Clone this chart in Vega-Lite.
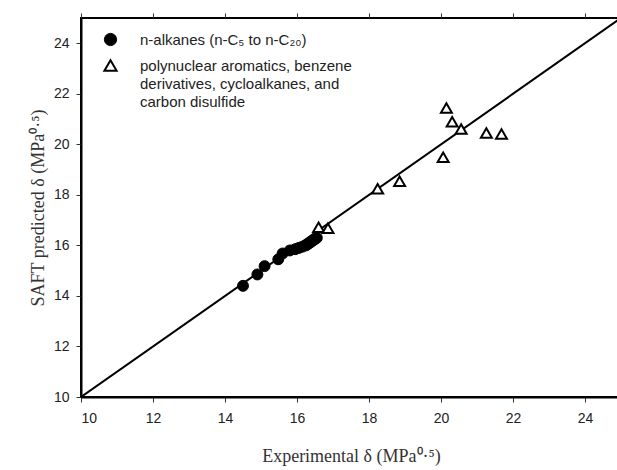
{
  "$schema": "https://vega.github.io/schema/vega-lite/v6.json",
  "width": 540,
  "height": 379,
  "autosize": {"type": "none"},
  "padding": {"left": 81, "top": 18, "right": 0, "bottom": 73},
  "config": {
    "view": {"stroke": "black", "strokeWidth": 2},
    "style": {"guide-label": {"lineHeight": 18}},
    "axis": {
      "grid": false,
      "domainColor": "black",
      "domainWidth": 2,
      "tickColor": "#333",
      "tickWidth": 1,
      "tickSize": 5,
      "labelFont": "Liberation Sans",
      "labelFontSize": 14,
      "labelColor": "#222",
      "titleFont": "Liberation Serif",
      "titleFontSize": 18,
      "titleFontWeight": "normal",
      "titleColor": "#333"
    }
  },
  "datasets": {
    "pts": [
      {"group": "n-alkanes (n-C₅ to n-C₂₀)", "exp": 14.5, "saft": 14.4},
      {"group": "n-alkanes (n-C₅ to n-C₂₀)", "exp": 14.9, "saft": 14.85},
      {"group": "n-alkanes (n-C₅ to n-C₂₀)", "exp": 15.1, "saft": 15.18},
      {"group": "n-alkanes (n-C₅ to n-C₂₀)", "exp": 15.48, "saft": 15.45},
      {"group": "n-alkanes (n-C₅ to n-C₂₀)", "exp": 15.6, "saft": 15.68},
      {"group": "n-alkanes (n-C₅ to n-C₂₀)", "exp": 15.8, "saft": 15.8},
      {"group": "n-alkanes (n-C₅ to n-C₂₀)", "exp": 15.95, "saft": 15.85},
      {"group": "n-alkanes (n-C₅ to n-C₂₀)", "exp": 16.05, "saft": 15.9},
      {"group": "n-alkanes (n-C₅ to n-C₂₀)", "exp": 16.15, "saft": 15.95},
      {"group": "n-alkanes (n-C₅ to n-C₂₀)", "exp": 16.25, "saft": 16.0},
      {"group": "n-alkanes (n-C₅ to n-C₂₀)", "exp": 16.3, "saft": 16.05},
      {"group": "n-alkanes (n-C₅ to n-C₂₀)", "exp": 16.35, "saft": 16.1},
      {"group": "n-alkanes (n-C₅ to n-C₂₀)", "exp": 16.4, "saft": 16.15},
      {"group": "n-alkanes (n-C₅ to n-C₂₀)", "exp": 16.45, "saft": 16.2},
      {"group": "n-alkanes (n-C₅ to n-C₂₀)", "exp": 16.5, "saft": 16.25},
      {"group": "n-alkanes (n-C₅ to n-C₂₀)", "exp": 16.55, "saft": 16.3},
      {"group": "polynuclear aromatics, benzene derivatives, cycloalkanes, and carbon disulfide", "exp": 16.6, "saft": 16.72},
      {"group": "polynuclear aromatics, benzene derivatives, cycloalkanes, and carbon disulfide", "exp": 16.86, "saft": 16.68},
      {"group": "polynuclear aromatics, benzene derivatives, cycloalkanes, and carbon disulfide", "exp": 18.24, "saft": 18.24},
      {"group": "polynuclear aromatics, benzene derivatives, cycloalkanes, and carbon disulfide", "exp": 18.85, "saft": 18.54},
      {"group": "polynuclear aromatics, benzene derivatives, cycloalkanes, and carbon disulfide", "exp": 20.06, "saft": 19.49},
      {"group": "polynuclear aromatics, benzene derivatives, cycloalkanes, and carbon disulfide", "exp": 20.15, "saft": 21.44},
      {"group": "polynuclear aromatics, benzene derivatives, cycloalkanes, and carbon disulfide", "exp": 20.31, "saft": 20.89},
      {"group": "polynuclear aromatics, benzene derivatives, cycloalkanes, and carbon disulfide", "exp": 20.56, "saft": 20.61},
      {"group": "polynuclear aromatics, benzene derivatives, cycloalkanes, and carbon disulfide", "exp": 21.26, "saft": 20.45},
      {"group": "polynuclear aromatics, benzene derivatives, cycloalkanes, and carbon disulfide", "exp": 21.68, "saft": 20.41}
    ],
    "diag": [
      {"exp": 10, "saft": 10},
      {"exp": 25, "saft": 25}
    ]
  },
  "layer": [
    {
      "data": {"name": "diag"},
      "mark": {"type": "line", "color": "black", "strokeWidth": 2, "clip": true},
      "encoding": {
        "x": {"field": "exp", "type": "quantitative", "scale": {"domain": [10, 25], "nice": false},
              "axis": {"orient": "top", "labels": false, "title": null, "values": [10, 12, 14, 16, 18, 20, 22, 24], "domain": false}},
        "y": {"field": "saft", "type": "quantitative", "scale": {"domain": [10, 25], "nice": false},
              "axis": {"values": [10, 12, 14, 16, 18, 20, 22, 24], "labelPadding": 7,
                       "title": "SAFT predicted δ (MPa⁰·⁵)", "titlePadding": 6}}
      }
    },
    {
      "data": {"name": "pts"},
      "mark": {"type": "point", "filled": true, "stroke": "black", "size": 120, "opacity": 1},
      "encoding": {
        "x": {"field": "exp", "type": "quantitative",
              "axis": {"orient": "bottom", "values": [10, 12, 14, 16, 18, 20, 22, 24], "labelPadding": 9,
                       "title": "Experimental δ (MPa⁰·⁵)", "titlePadding": 22}},
        "y": {"field": "saft", "type": "quantitative"},
        "shape": {"field": "group", "type": "nominal",
                  "scale": {"domain": ["n-alkanes (n-C₅ to n-C₂₀)", "polynuclear aromatics, benzene derivatives, cycloalkanes, and carbon disulfide"], "range": ["circle", "triangle-up"]},
                  "legend": {"orient": "none", "legendX": 22, "legendY": 14, "title": null,
                             "labelFont": "Liberation Sans", "labelFontSize": 15, "labelColor": "#222",
                             "labelLimit": 500, "labelOffset": 22, "rowPadding": 8, "symbolSize": 150,
                             "symbolStrokeWidth": 2,
                             "labelExpr": "indexof(datum.label, 'polynuclear') >= 0 ? ['polynuclear aromatics, benzene', 'derivatives, cycloalkanes, and', 'carbon disulfide'] : datum.label"}},
        "fill": {"field": "group", "type": "nominal",
                 "scale": {"domain": ["n-alkanes (n-C₅ to n-C₂₀)", "polynuclear aromatics, benzene derivatives, cycloalkanes, and carbon disulfide"], "range": ["black", "white"]},
                 "legend": {"orient": "none", "legendX": 22, "legendY": 14, "title": null,
                             "labelFont": "Liberation Sans", "labelFontSize": 15, "labelColor": "#222",
                             "labelLimit": 500, "labelOffset": 22, "rowPadding": 8, "symbolSize": 150,
                             "symbolStrokeWidth": 2,
                             "labelExpr": "indexof(datum.label, 'polynuclear') >= 0 ? ['polynuclear aromatics, benzene', 'derivatives, cycloalkanes, and', 'carbon disulfide'] : datum.label"}},
        "strokeWidth": {"field": "group", "type": "nominal",
                 "scale": {"domain": ["n-alkanes (n-C₅ to n-C₂₀)", "polynuclear aromatics, benzene derivatives, cycloalkanes, and carbon disulfide"], "range": [1, 2]},
                 "legend": null}
      }
    }
  ],
  "resolve": {"axis": {"x": "independent"}}
}
